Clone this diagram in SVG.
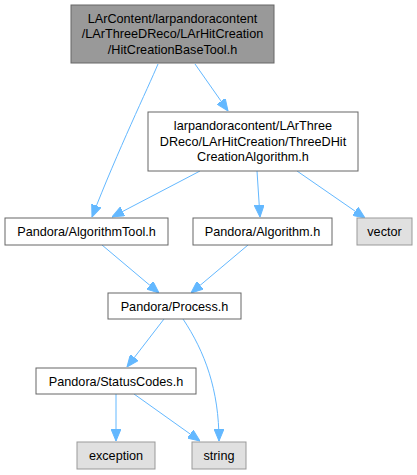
<svg xmlns="http://www.w3.org/2000/svg" width="417" height="475" viewBox="0 0 417 475">
<style>
.n rect{fill:#ffffff;stroke:#666666;stroke-width:1}
.n.main rect{fill:#999999;stroke:#666666}
.n.ext rect{fill:#e0e0e0;stroke:#999999}
.n text{font-family:"Liberation Sans",Arial,sans-serif;font-size:12.67px;fill:#000000;text-anchor:middle}
.e path{fill:none;stroke:#63b8ff;stroke-width:1}
</style>
<defs>
<marker id="arr" viewBox="0 0 12 10" refX="12" refY="5" markerWidth="12" markerHeight="10" markerUnits="userSpaceOnUse" orient="auto">
<path d="M0,0 L12,5 L0,10 z" fill="#63b8ff" stroke="#63b8ff" stroke-width="1"/>
</marker>
</defs>
<rect width="417" height="475" fill="#ffffff"/>
<g id="edges" class="e">
<path d="M195,64 L228,111" marker-end="url(#arr)"/>
<path d="M158,64 C148,88 118,150 92,217" marker-end="url(#arr)"/>
<path d="M200,171 L112,217" marker-end="url(#arr)"/>
<path d="M257,171 L260,217" marker-end="url(#arr)"/>
<path d="M297,171 L365,218" marker-end="url(#arr)"/>
<path d="M102,245 L159,293" marker-end="url(#arr)"/>
<path d="M248,245 L191,293" marker-end="url(#arr)"/>
<path d="M164,319 L127,367" marker-end="url(#arr)"/>
<path d="M183,319 C205,352 219,390 219,441" marker-end="url(#arr)"/>
<path d="M116,394 L116,441" marker-end="url(#arr)"/>
<path d="M134,394 L200,441" marker-end="url(#arr)"/>
</g>
<g id="node1" class="n main">
<rect x="71" y="5" width="203" height="58"/>
<text x="172.5" y="23">LArContent/larpandoracontent</text>
<text x="172.5" y="38.3">/LArThreeDReco/LArHitCreation</text>
<text x="172.5" y="53.6">/HitCreationBaseTool.h</text>
</g>
<g id="node2" class="n">
<rect x="148" y="112" width="210" height="59"/>
<text x="253" y="130.3">larpandoracontent/LArThree</text>
<text x="253" y="145.8">DReco/LArHitCreation/ThreeDHit</text>
<text x="253" y="161.3">CreationAlgorithm.h</text>
</g>
<g id="node3" class="n">
<rect x="5" y="218" width="163" height="27"/>
<text x="86.5" y="236">Pandora/AlgorithmTool.h</text>
</g>
<g id="node4" class="n">
<rect x="193" y="218" width="139" height="27"/>
<text x="262.5" y="236">Pandora/Algorithm.h</text>
</g>
<g id="node5" class="n ext">
<rect x="357" y="218" width="55" height="27"/>
<text x="384.5" y="236">vector</text>
</g>
<g id="node6" class="n">
<rect x="108" y="293" width="133" height="26"/>
<text x="174.5" y="310.5">Pandora/Process.h</text>
</g>
<g id="node7" class="n">
<rect x="36" y="368" width="160" height="26"/>
<text x="116" y="385.5">Pandora/StatusCodes.h</text>
</g>
<g id="node8" class="n ext">
<rect x="77" y="442" width="78" height="27"/>
<text x="116" y="460">exception</text>
</g>
<g id="node9" class="n ext">
<rect x="192" y="442" width="54" height="27"/>
<text x="219" y="460">string</text>
</g>
</svg>
